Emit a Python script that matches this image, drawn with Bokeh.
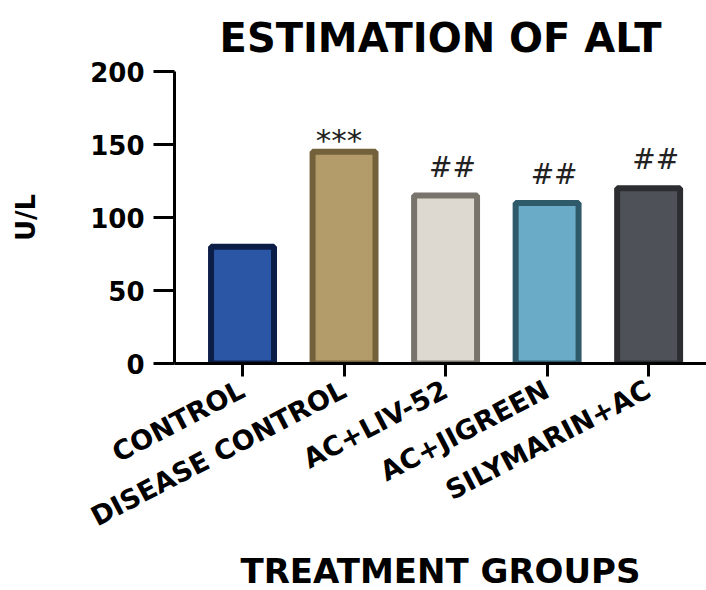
import numpy as np
from bokeh.plotting import figure
from bokeh.models import ColumnDataSource, Range1d, FixedTicker, Title
from bokeh.core.properties import value
from bokeh.embed import file_html
from bokeh.resources import INLINE

# Serum ALT by treatment group (U/L)
groups = ["CONTROL", "DISEASE CONTROL", "AC+LIV-52", "AC+JIGREEN", "SILYMARIN+AC"]
alt_values = [80, 145, 115, 110, 120]
significance = ["", "***", "##", "##", "##"]
y_ticks = [0, 50, 100, 150, 200]

fill_colors = ["#2b56a6", "#b39b6a", "#ddd9d0", "#6aabc8", "#4e5258"]
line_colors = ["#0c1d48", "#73613c", "#78746c", "#2f5a6a", "#2b2d31"]

FONT = "DejaVu Sans"

x = list(range(len(groups)))
src = ColumnDataSource(dict(x=x, top=alt_values, fill=fill_colors, line=line_colors))

p = figure(width=706, height=590, output_backend="svg", toolbar_location=None,
           x_range=Range1d(-0.67, 4.57), y_range=Range1d(0, 200),
           min_border_left=174, min_border_right=0, min_border_top=71,
           min_border_bottom=227)
p.outline_line_color = None
p.grid.grid_line_color = None
p.background_fill_color = "white"
p.border_fill_color = "white"

p.vbar(x="x", top="top", width=0.62, bottom=0, source=src,
       fill_color="fill", line_color="line", line_width=6)

# significance marks above the bars: *** vs disease-free control, ## vs disease control
stars = [i for i, s in enumerate(significance) if s == "***"]
hashes = [i for i, s in enumerate(significance) if s == "##"]
p.text(x=[x[i] for i in stars], y=[alt_values[i] for i in stars],
       text=[significance[i] for i in stars], x_offset=-5, y_offset=6,
       text_align="center", text_baseline="bottom",
       text_font=value(FONT), text_font_size="31px", text_color="#222222")
p.text(x=[x[i] for i in hashes], y=[alt_values[i] for i in hashes],
       text=[significance[i] for i in hashes], x_offset=7, y_offset=-12,
       text_align="center", text_baseline="bottom",
       text_font=value(FONT), text_font_size="28px", text_color="#222222")

# y axis
ya = p.yaxis[0]
ya.ticker = FixedTicker(ticks=y_ticks)
ya.axis_line_width = 3
ya.major_tick_line_width = 3
ya.major_tick_out = 21
ya.major_tick_in = 0
ya.minor_tick_line_color = None
ya.major_label_standoff = 9
ya.major_label_text_font = FONT
ya.major_label_text_font_style = "bold"
ya.major_label_text_font_size = "26px"
ya.major_label_text_color = "black"
ya.axis_label = "U/L"
ya.axis_label_standoff = 46
ya.axis_label_text_font = FONT
ya.axis_label_text_font_style = "bold"
ya.axis_label_text_font_size = "26px"
ya.axis_label_text_color = "black"

# x axis with rotated group names
xa = p.xaxis[0]
xa.ticker = FixedTicker(ticks=x)
xa.major_label_overrides = {i: g for i, g in enumerate(groups)}
xa.axis_line_width = 3
xa.major_tick_line_width = 3
xa.major_tick_out = 13
xa.major_tick_in = 0
xa.minor_tick_line_color = None
xa.major_label_orientation = 0.48
xa.major_label_standoff = 11
xa.major_label_text_font = FONT
xa.major_label_text_font_style = "bold"
xa.major_label_text_font_size = "27px"
xa.major_label_text_color = "black"

# titles
p.title.text = "ESTIMATION OF ALT"
p.title.align = "center"
p.title.standoff = 22
p.title.text_font = FONT
p.title.text_font_style = "bold"
p.title.text_font_size = "40px"
p.title.text_color = "black"

p.add_layout(Title(text="TREATMENT GROUPS", align="center", standoff=0,
                   text_font=FONT, text_font_style="bold", text_font_size="34px",
                   text_color="black"), "below")

open("out.html", "w").write(file_html(p, INLINE))
